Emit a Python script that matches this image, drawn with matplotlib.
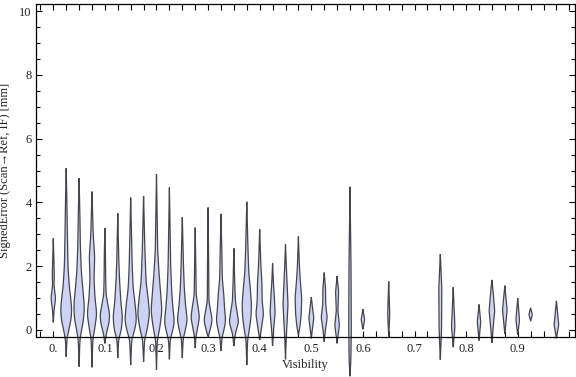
import numpy as np
import matplotlib
matplotlib.use("Agg")
import matplotlib.pyplot as plt
from matplotlib.ticker import MultipleLocator, FixedLocator

# ---- data ----
positions = [0.0, 0.025, 0.05, 0.075, 0.1, 0.125, 0.15, 0.175, 0.2, 0.225,
             0.25, 0.275, 0.3, 0.325, 0.35, 0.375, 0.4, 0.425, 0.45, 0.475,
             0.5, 0.525, 0.55, 0.575, 0.6, 0.65, 0.75, 0.775, 0.825, 0.85,
             0.875, 0.9, 0.925, 0.975]

# profile knots: error values and relative density at those values
knot_values = [
    [0.24, 0.6, 0.99, 1.4, 1.7, 2.2, 2.87],
    [-0.84, -0.3, 0, 0.3, 0.65, 1.0, 1.4, 2.0, 3.0, 4.0, 5.07],
    [-1.15, -0.3, 0, 0.35, 0.75, 1.2, 1.8, 2.6, 3.6, 4.76],
    [-1.17, -0.3, 0, 0.5, 1.0, 1.6, 2.3, 3.0, 4.34],
    [-0.42, -0.1, 0.2, 0.47, 0.8, 1.1, 1.6, 2.5, 3.19],
    [-0.88, -0.3, 0, 0.4, 0.9, 1.6, 2.2, 3.66],
    [-1.1, -0.3, 0, 0.3, 0.8, 1.3, 2.0, 3.0, 4.15],
    [-1.0, -0.3, 0, 0.5, 1.0, 1.5, 2.5, 4.2],
    [-1.25, -0.3, 0, 0.6, 1.2, 1.8, 2.5, 4.89],
    [-0.92, -0.3, 0, 0.26, 0.7, 1.2, 2.0, 4.47],
    [-0.88, -0.3, 0, 0.3, 0.8, 1.3, 2.0, 3.53],
    [-0.57, -0.2, 0, 0.4, 0.8, 1.1, 2.0, 3.21],
    [-0.2, 0, 0.3, 0.6, 0.9, 2.0, 3.84],
    [-0.65, -0.2, 0, 0.3, 0.7, 1.1, 1.6, 2.5, 3.64],
    [-0.5, -0.1, 0.25, 0.6, 0.9, 1.5, 2.56],
    [-1.1, -0.3, 0, 0.4, 0.8, 1.3, 1.8, 2.5, 4.02],
    [-0.31, 0, 0.5, 0.9, 1.5, 2.0, 3.16],
    [-0.5, 0, 0.55, 1.0, 1.5, 2.09],
    [-0.92, -0.2, 0.2, 0.8, 1.3, 2.0, 2.68],
    [-0.15, 0.1, 0.5, 1.0, 1.5, 2.0, 2.93],
    [-0.26, 0, 0.37, 0.7, 1.03],
    [-0.37, 0, 0.4, 0.8, 1.3, 1.8],
    [-0.42, 0.15, 0.6, 1.2, 1.69],
    [-1.45, -1.0, 0, 2.0, 4.49],
    [0.02, 0.33, 0.65],
    [-0.2, 0.5, 1.52],
    [-0.93, 0, 1.3, 2.38],
    [-0.54, 0.1, 0.6, 1.34],
    [-0.33, 0.26, 0.8],
    [-0.4, 0, 0.6, 1.1, 1.57],
    [-0.12, 0.63, 1.39],
    [-0.15, 0.31, 1.0],
    [0.28, 0.48, 0.69],
    [-0.26, 0.16, 0.91],
]
knot_density = [
    [0, 0.7, 2.3, 0.7, 1.0, 0.6, 0],
    [0, 0.7, 2.5, 4.8, 5.6, 4.5, 3.0, 1.8, 1.2, 0.7, 0],
    [0, 0.8, 2.5, 4.6, 5.3, 4.0, 2.3, 1.3, 0.8, 0],
    [0, 0.8, 2.5, 4.8, 3.0, 2.0, 2.7, 1.2, 0],
    [0, 1.5, 4.0, 4.8, 3.0, 1.2, 0.8, 0.5, 0],
    [0, 0.8, 3.5, 4.7, 3.0, 1.7, 1.0, 0],
    [0, 1.0, 4.0, 5.8, 4.5, 2.5, 1.5, 0.8, 0],
    [0, 1.0, 3.5, 6.0, 4.5, 2.5, 1.3, 0],
    [0, 0.8, 3.0, 5.5, 4.0, 2.5, 1.2, 0],
    [0, 0.8, 3.5, 5.0, 3.5, 2.3, 1.3, 0],
    [0, 0.8, 3.0, 5.0, 3.2, 2.0, 1.2, 0],
    [0, 0.7, 2.0, 4.3, 2.5, 1.0, 0.6, 0],
    [0, 2.0, 4.2, 2.5, 0.8, 0.6, 0],
    [0, 1.2, 3.0, 4.7, 3.5, 2.8, 1.3, 0.8, 0],
    [0, 1.5, 4.7, 3.0, 1.5, 0.8, 0],
    [0, 0.8, 2.5, 4.2, 4.7, 3.5, 2.0, 1.2, 0],
    [0, 1.5, 3.8, 2.5, 2.2, 1.2, 0],
    [0, 1.0, 2.5, 1.8, 0.8, 0],
    [0, 0.8, 1.5, 2.5, 1.8, 0.8, 0],
    [0, 1.5, 2.8, 3.3, 2.0, 1.0, 0],
    [0, 1.0, 2.5, 1.2, 0],
    [0, 1.2, 3.0, 1.5, 1.3, 0],
    [0, 2.3, 0.8, 1.5, 0],
    [0, 0.8, 1.3, 1.0, 0],
    [0, 1.7, 0],
    [0, 1.0, 0],
    [0, 1.2, 1.5, 0],
    [0, 1.7, 1.0, 0],
    [0, 1.7, 0],
    [0, 1.0, 2.8, 1.5, 0],
    [0, 2.3, 0],
    [0, 1.8, 0],
    [0, 1.7, 0],
    [0, 2.3, 0],
]

x_tick_values = [0.0, 0.1, 0.2, 0.3, 0.4, 0.5, 0.6, 0.7, 0.8, 0.9]
x_tick_labels = ["0.", "0.1", "0.2", "0.3", "0.4", "0.5", "0.6", "0.7", "0.8", "0.9"]
y_tick_values = [0, 2, 4, 6, 8, 10]

# ---- style ----
FACE = "#cdd3f5"
EDGE = "#45454d"
TXT = "#222222"
FONT = ["Liberation Serif", "DejaVu Serif"]
width_scale = 0.025 / 12.9  # data units per density unit

fig = plt.figure(figsize=(5.76, 3.77), dpi=100)
ax = fig.add_axes([36 / 576, 1 - 337 / 377, (575 - 36) / 576, (337 - 4) / 377])

for pos, kv, kd in zip(positions, knot_values, knot_density):
    kv = np.asarray(kv, float)
    kd = np.asarray(kd, float)
    grid = np.linspace(kv[0], kv[-1], 240)
    w = np.interp(grid, kv, kd)
    k = np.exp(-0.5 * (np.arange(-12, 13) / 5.0) ** 2)
    k /= k.sum()
    ws = np.convolve(np.pad(w, 12, mode="constant"), k, mode="same")[12:-12]
    ws[0] = 0
    ws[-1] = 0
    xs = np.concatenate([pos + ws * width_scale, (pos - ws * width_scale)[::-1]])
    ys = np.concatenate([grid, grid[::-1]])
    ax.fill(xs, ys, facecolor=FACE, edgecolor=EDGE, linewidth=0.9,
            clip_on=False, zorder=3)

ax.set_xlim(-0.0335, 1.011)
ax.set_ylim(-0.22, 10.22)

ax.xaxis.set_major_locator(FixedLocator(x_tick_values))
ax.set_xticklabels(x_tick_labels)
ax.xaxis.set_minor_locator(MultipleLocator(0.025))
ax.yaxis.set_major_locator(FixedLocator(y_tick_values))
ax.yaxis.set_minor_locator(MultipleLocator(0.5))

ax.tick_params(axis="both", which="both", direction="in", top=True, right=True,
               colors="black", labelcolor=TXT, width=0.8)
ax.tick_params(axis="x", which="major", length=4, pad=4)
ax.tick_params(axis="x", which="minor", length=4)
ax.tick_params(axis="y", which="major", length=4.5, pad=3)
ax.tick_params(axis="y", which="minor", length=2.7)

for lab in ax.get_xticklabels() + ax.get_yticklabels():
    lab.set_family(FONT)
    lab.set_fontsize(9)

for sp in ax.spines.values():
    sp.set_linewidth(0.9)
    sp.set_zorder(4)

ax.set_xlabel("Visibility", family=FONT, fontsize=9, color=TXT, labelpad=3)
ax.set_ylabel("SignedError (Scan\u2192Ref, IF) [mm]", family=FONT, fontsize=9,
              color=TXT, labelpad=6)

fig.savefig("out.png", dpi=100)
